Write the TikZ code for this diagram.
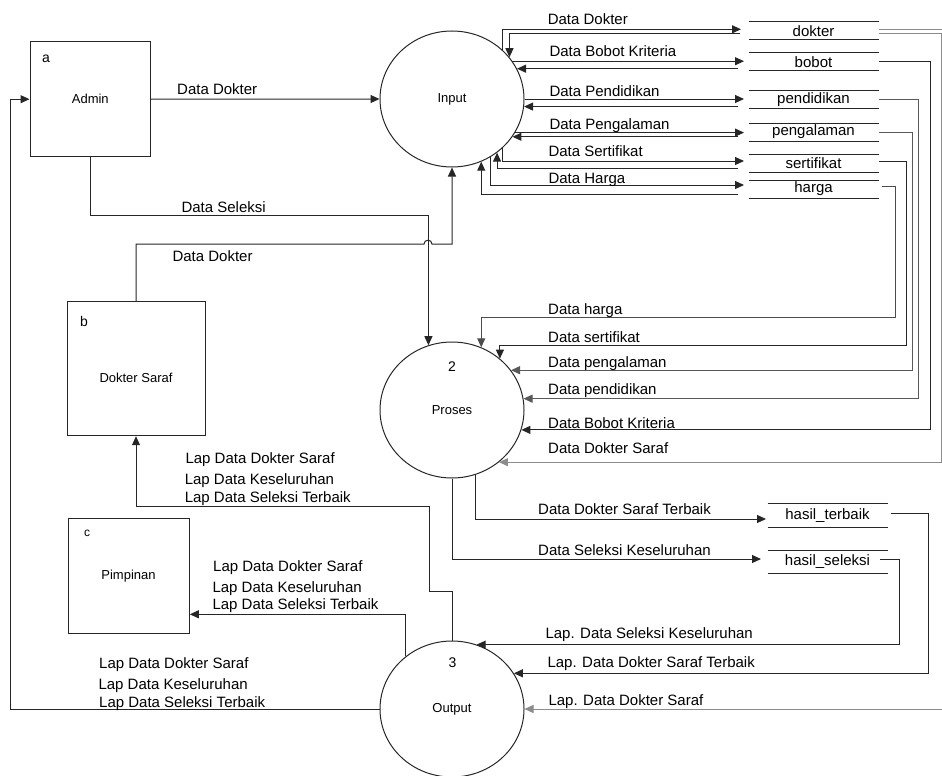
\documentclass[tikz,border=0pt]{standalone}
\usepackage{fontspec}
\setmainfont{Liberation Sans}
\usetikzlibrary{arrows.meta,shapes.geometric}
\begin{document}
\begin{tikzpicture}[x=1pt,y=-1pt,
  line width=1pt,
  lbl/.style={anchor=base west,inner sep=0pt,font=\fontsize{15}{18}\selectfont},
  ntext/.style={inner sep=0pt,font=\fontsize{13}{16}\selectfont},
  letter/.style={inner sep=0pt,font=\fontsize{14}{16}\selectfont},
  ent/.style={draw=black!85,inner sep=0pt},
  proc/.style={draw=black!85,ellipse,minimum width=144pt,minimum height=136pt,inner sep=0pt,font=\fontsize{13}{16}\selectfont},
  store/.style={minimum width=129pt,minimum height=17pt,inner sep=0pt,font=\fontsize{15}{18}\selectfont},
  conn/.style={draw=black!85,-{Triangle[length=9pt,width=8pt]}},
  gry/.style={draw=black!45}
]
\useasboundingbox (0,0) rectangle (942,776);

% external entities
\node[ent,minimum width=120.7pt,minimum height=115pt] (adm) at (90.35,99.2) {};
\node[ntext] (admT) at (90.3,99) {Admin};
\node[letter] (admL) at (46,59.3) {a};

\node[ent,minimum width=138pt,minimum height=134pt] (b) at (136,368.7) {};
\node[ntext] (bT) at (136,378) {Dokter Saraf};
\node[letter] (bL) at (84,321) {b};

\node[ent,minimum width=121pt,minimum height=115.3pt] (pim) at (128.8,576.3) {};
\node[ntext] (pimT) at (128.5,576) {Pimpinan};
\node[letter,font=\fontsize{12}{14}\selectfont] (pimL) at (87,533.5) {c};

% processes
\node[proc] (in1) at (452,99) {Input};
\node[proc] (pr) at (452,410) {Proses};
\node[letter] (prN) at (452,367) {2};
\node[proc] (out) at (452,709) {Output};
\node[letter] (outN) at (452.5,662.3) {3};

% data stores
\node[store] (dk) at (813.5,30.7) {dokter};
\node[store] (bb) at (813.5,61.7) {bobot};
\node[store] (pd) at (813.5,99.5) {pendidikan};
\node[store] (pg) at (813.5,132) {pengalaman};
\node[store] (sf) at (813.5,163) {sertifikat};
\node[store] (hg) at (813.5,189) {harga};
\node[store,minimum width=119pt,minimum height=23pt] (ht) at (827.5,515.5) {hasil\_terbaik};
\node[store,minimum width=119pt,minimum height=22pt] (hs) at (827.5,562) {hasil\_seleksi};
\foreach \s in {dk,bb,pd,pg,sf,hg,ht,hs}
  {\draw[black!85] (\s.north west) -- (\s.north east) (\s.south west) -- (\s.south east);}

% helper coordinates
\coordinate (sx) at (744,0);
\coordinate (rx) at (738,0);
\coordinate (dkO) at (741,29.3);
\coordinate (dkI) at (740,33.3);
\coordinate (sfO) at (744,161);
\coordinate (sfI) at (738,168);
\coordinate (hgO) at (744,185);
\coordinate (hgI) at (738,194.3);

% Admin / Dokter Saraf -> Input, Proses
\draw[conn] (adm.east) -- (in1.west);
\draw[conn] (adm.south) -- ++(0,58.3) -| (pr.110);
\draw[conn] (b.north) |- (424,244) .. controls (424,239) and (432,239) .. (432,244) -| (in1.south);

% Input <-> stores
\draw[conn] (in1.44) |- (dkO);
\draw[conn] (dkI) -| (in1.36);
\draw[conn] (in1.32) -- (in1.32 -| sx);
\draw[conn] (in1.25 -| rx) -- (in1.25);
\draw[conn] (in1.0) -- (in1.0 -| sx);
\draw[conn] (in1.354 -| rx) -- (in1.354);
\draw[conn] (in1.332) -- (in1.332 -| sx);
\draw[conn] (in1.328 -| rx) -- (in1.328);
\draw[conn] (in1.316) |- (sfO);
\draw[conn] (sfI) -| (in1.310);
\draw[conn] (in1.304) |- (hgO);
\draw[conn] (hgI) -| (in1.295);

% stores -> Proses
\draw[conn,gry] ([yshift=-2.6pt]dk.east) -- ++(63,0) |- (pr.312);
\draw[conn] (bb.east) -- ++(52,0) |- (pr.344);
\draw[conn,draw=black!65] (pd.east) -- ++(40,0) |- (pr.9);
\draw[conn,draw=black!65] (pg.east) -- ++(34,0) |- (pr.34);
\draw[conn] ([yshift=2pt]sf.east) -- ++(28,0) -- ++(0,184) -| (pr.47);
\draw[conn,draw=black!70] ([xshift=3pt,yshift=3pt]hg.east) -- ++(14,0) -- ++(0,131) -| (pr.65);

% Proses -> result stores
\draw[conn] (pr.290) |- ([xshift=-1.5pt,yshift=-3.5pt]ht.west);
\draw[conn] (pr.south) |- ([xshift=-6.5pt,yshift=3pt]hs.west);

% stores -> Output
\draw[conn] ([xshift=3pt,yshift=2.2pt]ht.east) -- ++(38.3,0) |- (out.30);
\draw[conn] ([xshift=-7.7pt,yshift=3pt]hs.east) -- ++(19.7,0) |- (out.69);
\draw[conn,gry] ([yshift=1.4pt]dk.east) -- ++(67,0) |- (out.east);

% Output -> entities
\draw[conn] (out.west) -- ++(-369,0) |- (adm.west);
\draw[conn] (out.131) |- ([yshift=-38pt]pim.east);
\draw[conn] (out.north) |- (429,591.7) -- (429,506) -| (b.south);

% labels left
\node[lbl] (l1) at (176.7,94.4) {Data Dokter};
\node[lbl] (l2) at (181,212.1) {Data Seleksi};
\node[lbl] (l3) at (172,261.4) {Data Dokter};
\node[lbl] (g1a) at (185,463.1) {Lap Data Dokter Saraf};
\node[lbl] (g1b) at (184.3,484.4) {Lap Data Keseluruhan};
\node[lbl] (g1c) at (184.3,502.1) {Lap Data Seleksi Terbaik};
\node[lbl] (g2a) at (212.7,571.1) {Lap Data Dokter Saraf};
\node[lbl] (g2b) at (212,592.1) {Lap Data Keseluruhan};
\node[lbl] (g2c) at (212,609.4) {Lap Data Seleksi Terbaik};
\node[lbl] (g3a) at (98.7,668.1) {Lap Data Dokter Saraf};
\node[lbl] (g3b) at (98,689.4) {Lap Data Keseluruhan};
\node[lbl] (g3c) at (98.7,707.1) {Lap Data Seleksi Terbaik};

% labels right top
\node[lbl] (r1) at (547.3,24.4) {Data Dokter};
\node[lbl] (r2) at (549,56.4) {Data Bobot Kriteria};
\node[lbl] (r3) at (549,96.1) {Data Pendidikan};
\node[lbl] (r4) at (549,129.4) {Data Pengalaman};
\node[lbl] (r5) at (548,156.4) {Data Sertifikat};
\node[lbl] (r6) at (548,183.7) {Data Harga};

% labels right middle
\node[lbl] (m1) at (547.7,314.7) {Data harga};
\node[lbl] (m2) at (547.7,342.7) {Data sertifikat};
\node[lbl] (m3) at (547.7,367.7) {Data pengalaman};
\node[lbl] (m4) at (547.7,394.7) {Data pendidikan};
\node[lbl] (m5) at (547.7,428.1) {Data Bobot Kriteria};
\node[lbl] (m6) at (547.7,453.7) {Data Dokter Saraf};
\node[lbl] (m7) at (537.7,514.4) {Data Dokter Saraf Terbaik};
\node[lbl] (m8) at (537.7,555.4) {Data Seleksi Keseluruhan};

% labels right bottom
\node[lbl] (o1) at (545,638.4) {Lap. Data Seleksi Keseluruhan};
\node[lbl] (o2) at (547,667.4) {Lap. Data Dokter Saraf Terbaik};
\node[lbl] (o3) at (548,705) {Lap. Data Dokter Saraf};
\end{tikzpicture}
\end{document}
